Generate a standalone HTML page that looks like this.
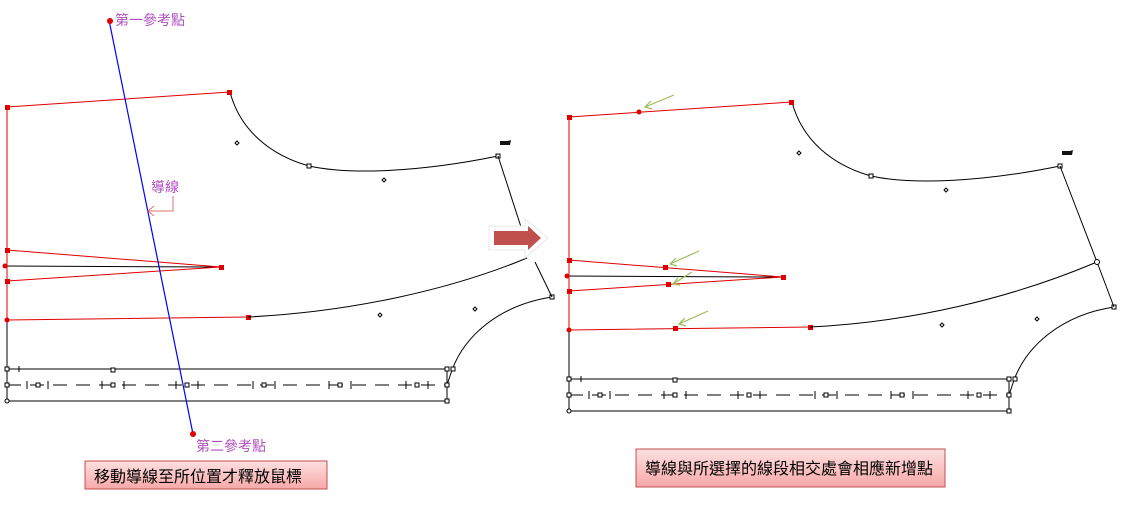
<!DOCTYPE html>
<html><head><meta charset="utf-8"><style>
body{margin:0;background:#fff;width:1121px;height:526px;overflow:hidden}
svg{display:block}
.t{font-family:"Liberation Sans","Noto Sans CJK TC",sans-serif}
</style></head><body>
<svg width="1121" height="526" viewBox="0 0 1121 526" xmlns="http://www.w3.org/2000/svg">
<defs>
<linearGradient id="bx" x1="0" y1="0" x2="0" y2="1"><stop offset="0" stop-color="#fde0e0"/><stop offset="1" stop-color="#f8a8a8"/></linearGradient>
<g id="piece" fill="none" stroke-width="1">
 <path d="M230,92 C240,130 270,155 309,166 C350,175 420,172 498,156 M552,297 C500,305 465,335 452,370" stroke="#000"/>
 <path d="M5,266 L213,267" stroke="#000"/>
 <path d="M7,320 L7,401 L447,401 L447,369 L7,369 M447,385 L452,370" stroke="#000"/>
 <path d="M7,385 L447,385" stroke="#000" stroke-dasharray="14,9"/>
 <path d="M27,381 v8 M48,381 v8 M102,381 v8 M124,381 v8 M176,381 v8 M198,381 v8 M253,381 v8 M275,381 v8 M329,381 v8 M351,381 v8 M406,381 v8 M428,381 v8 M19,366 v6" stroke="#000"/>
 <path d="M7,107 L230,92 M7,107 L7,320 L248,317 M7,250 L221,267 L7,281" stroke="#e00000"/>
 <g fill="#e00000" stroke="none">
  <rect x="5" y="105" width="5" height="5"/><rect x="227" y="90" width="5" height="5"/>
  <rect x="5" y="248" width="5" height="5"/><rect x="5" y="279" width="5" height="5"/>
  <rect x="219" y="265" width="5" height="5"/><rect x="246" y="315" width="5" height="5"/>
  <circle cx="5" cy="266" r="2.5"/><circle cx="7" cy="320" r="2.5"/>
 </g>
 <g fill="#fff" stroke="#000" stroke-width="1">
  <rect x="307" y="164" width="4" height="4"/><rect x="496" y="154" width="4" height="4"/>
  <rect x="550" y="295" width="4" height="4"/>
  <rect x="5" y="367" width="4" height="4"/><rect x="111" y="368" width="4" height="4"/>
  <rect x="445" y="367" width="4" height="4"/><rect x="451" y="367" width="4" height="4"/>
  <rect x="5" y="383" width="4" height="4"/><rect x="445" y="383" width="4" height="4"/>
  <rect x="36" y="383" width="4" height="4"/><rect x="111" y="383" width="4" height="4"/>
  <rect x="185" y="383" width="4" height="4"/><rect x="262" y="383" width="4" height="4"/>
  <rect x="338" y="383" width="4" height="4"/><rect x="415" y="383" width="4" height="4"/>
  <rect x="445" y="399" width="4" height="4"/><circle cx="7" cy="401" r="2"/>
  <path d="M237,141 l2,2 -2,2 -2,-2z M384,178 l2,2 -2,2 -2,-2z M380,313 l2,2 -2,2 -2,-2z M475,307 l2,2 -2,2 -2,-2z"/>
 </g>
 <path d="M500,141 h8 l3,-1 -1,5 h-10z" fill="#111"/>
</g>
</defs>
<use href="#piece"/>
<use href="#piece" transform="translate(562,10)"/>
<!-- left piece right edge & waist -->
<path d="M498,156 L522,230 M535,262 L552,297 M248,317 C350,312 450,290 527,258" fill="none" stroke="#000"/>
<!-- right piece right edge & waist -->
<path d="M1060,166 L1097,262 L1114,307 M810,327 C912,322 1012,298 1097,262" fill="none" stroke="#000"/>
<circle cx="1097" cy="262" r="2.5" fill="#fff" stroke="#000"/>
<!-- blue guide -->
<line x1="109" y1="20" x2="193" y2="434" stroke="#0000ff" stroke-width="1.2"/>
<circle cx="110" cy="21" r="3" fill="#e00000"/><circle cx="193" cy="434" r="3" fill="#e00000"/>
<text x="115" y="25" class="t" font-size="14" fill="#b050c0">第一參考點</text>
<text x="196" y="451" class="t" font-size="14" fill="#b050c0">第二參考點</text>
<text x="151" y="192" class="t" font-size="14" fill="#b050c0">導線</text>
<path d="M173,196 V211 H148 M154,206 L148,211 154,216" fill="none" stroke="#e07070" stroke-width="1"/>
<!-- arrow -->
<path d="M489,226 H525 V219 L548,238 525,258 V250 H489Z" fill="#fff" stroke="#e8e8e8"/>
<path d="M494,231 H528 V226 L541,238 528,250 V245 H494Z" fill="#c0504d"/>
<!-- new points -->
<g fill="#e00000"><circle cx="639" cy="112" r="2.5"/><rect x="663" y="265" width="5" height="5"/><rect x="666" y="282" width="5" height="5"/><rect x="673" y="326" width="5" height="5"/></g>
<g stroke="#9bbb59" stroke-width="1.2" fill="none">
<path d="M674,95 L645,107 M651,101 L645,107 652,109"/>
<path d="M699,251 L670,264 M676,258 L670,264 677,266"/>
<path d="M692,272 L673,284 M678,278 L673,284 680,285"/>
<path d="M708,311 L679,324 M685,318 L679,324 686,326"/>
</g>
<!-- boxes -->
<rect x="85" y="461" width="242" height="28" fill="url(#bx)" stroke="#c0504d"/>
<text x="94" y="482" class="t" font-size="16" fill="#000">移動導線至所位置才釋放鼠標</text>
<rect x="636" y="449" width="309" height="38" fill="url(#bx)" stroke="#c0504d"/>
<text x="645" y="474" class="t" font-size="16" fill="#000">導線與所選擇的線段相交處會相應新增點</text>
</svg>
</body></html>
